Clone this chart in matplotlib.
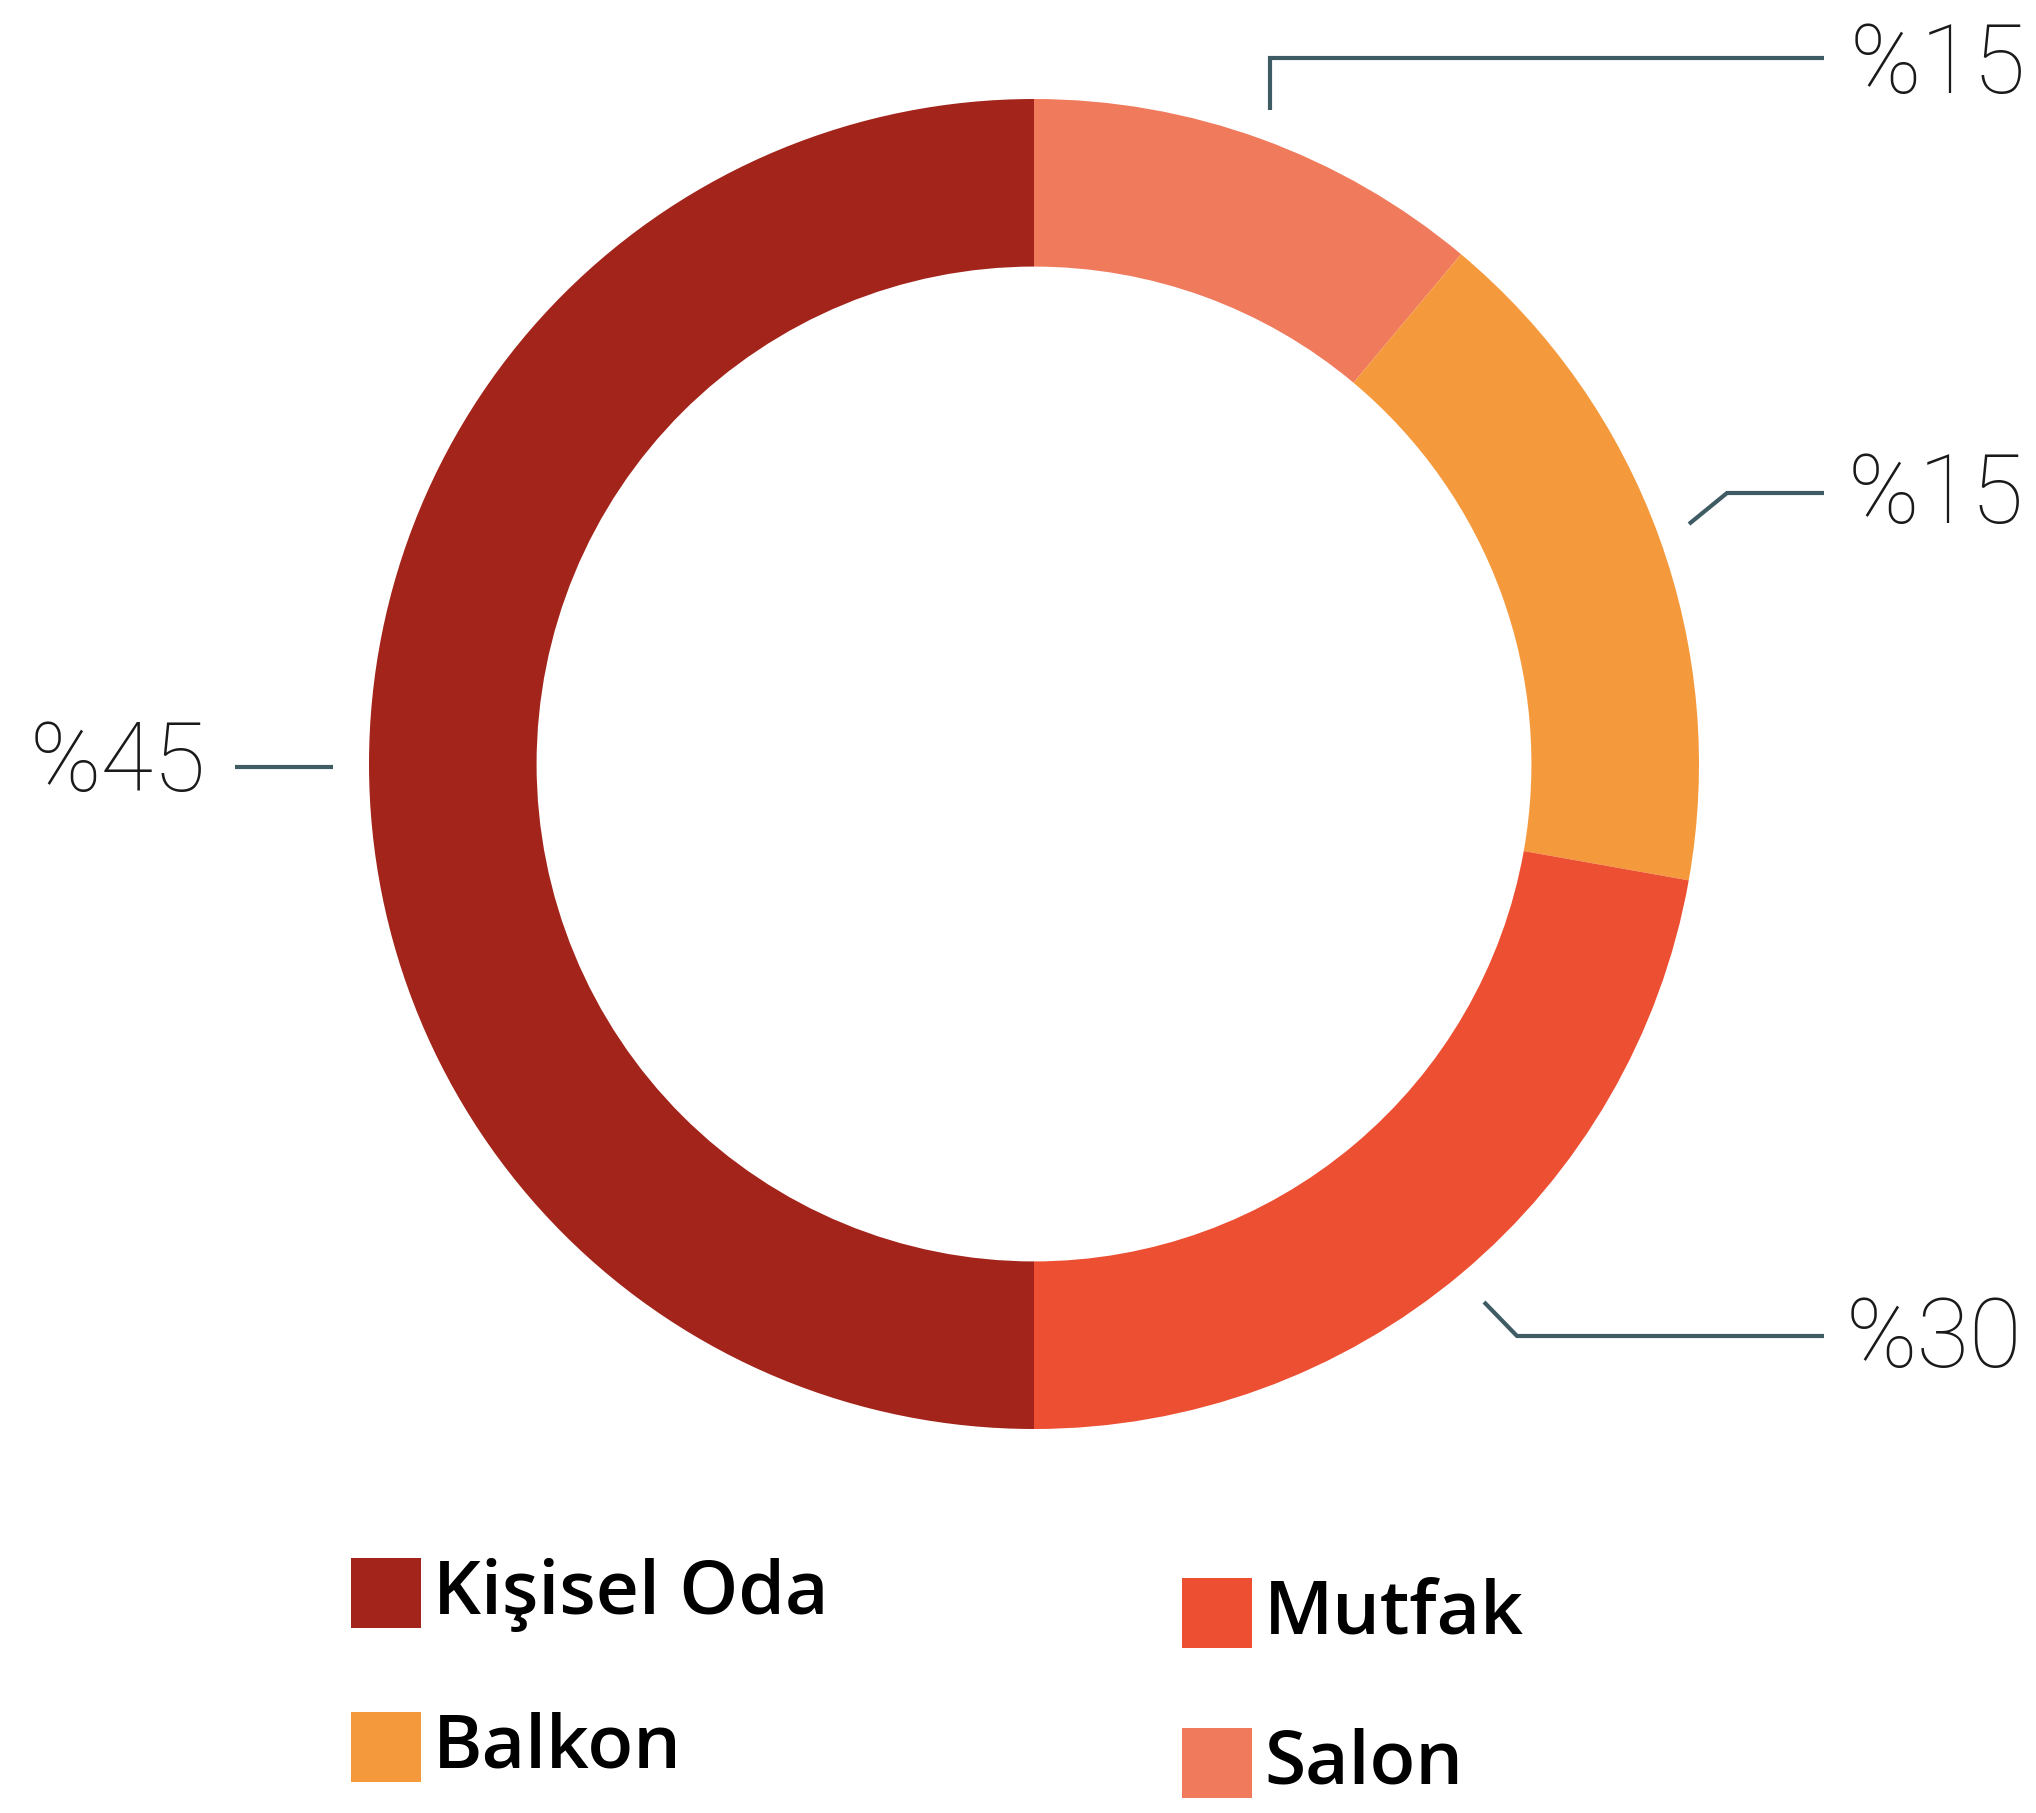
import matplotlib
matplotlib.use("Agg")
import matplotlib.pyplot as plt
from matplotlib.patches import Rectangle

# ---- data ----
categories = ["Salon", "Balkon", "Mutfak", "Kişisel Oda"]
ring_values = [11.1, 16.7, 22.2, 50.0]
# percentage labels as printed
label_texts = ["%15", "%15", "%30", "%45"]
colors = ["#F07A5C", "#F59A3C", "#EC4F32", "#A3241A"]

legend_order = ["Kişisel Oda", "Mutfak", "Balkon", "Salon"]

W, H = 2036, 1813
fig = plt.figure(figsize=(W / 100, H / 100), dpi=100)
ax = fig.add_axes([0, 0, 1, 1])

def Y(y):
    return H - y

cx, cy, R = 1034, 764, 665
ax.pie(ring_values, colors=colors, startangle=90, counterclock=False,
       center=(cx, Y(cy)), radius=R,
       wedgeprops=dict(width=R * 0.252, linewidth=0))
ax.set_xlim(0, W)
ax.set_ylim(0, H)
ax.set_aspect("equal")
ax.axis("off")

line_c = "#3F5B64"
lw = 3.0
pct_font = dict(family=["Roboto", "DejaVu Sans"], fontweight=100,
                fontsize=69, color="#1a1a1a", va="center")

# leader lines (pixel positions)
leaders = {
    "Salon": [(1270, 110), (1270, 58), (1824, 58)],
    "Balkon": [(1689, 524), (1727, 493), (1824, 493)],
    "Mutfak": [(1484, 1302), (1517, 1336), (1824, 1336)],
    "Kişisel Oda": [(333, 767), (235, 767)],
}
text_pos = {
    "Salon": (1850, 67, "left"),
    "Balkon": (1848, 496, "left"),
    "Mutfak": (1846, 1341, "left"),
    "Kişisel Oda": (206, 765, "right"),
}
for cat, lab in zip(categories, label_texts):
    pts = leaders[cat]
    ax.plot([p[0] for p in pts], [Y(p[1]) for p in pts], color=line_c,
            lw=lw, solid_capstyle="butt", solid_joinstyle="miter")
    x, y, ha = text_pos[cat]
    ax.text(x, Y(y), lab, ha=ha, **pct_font)

# legend
leg_pos = {
    "Kişisel Oda": (351, 1558),
    "Mutfak": (1182, 1578),
    "Balkon": (351, 1712),
    "Salon": (1182, 1728),
}
sq = 70
for cat in legend_order:
    x, y = leg_pos[cat]
    c = colors[categories.index(cat)]
    ax.add_patch(Rectangle((x, Y(y + sq)), sq, sq, color=c, lw=0))
    ax.text(x + sq + 12, Y(y + sq / 2 + 2), cat, ha="left", va="center",
            fontsize=54, family=["Open Sans", "DejaVu Sans"],
            fontweight="semibold", color="#000000")

fig.savefig("out.png", dpi=100, facecolor="white")
